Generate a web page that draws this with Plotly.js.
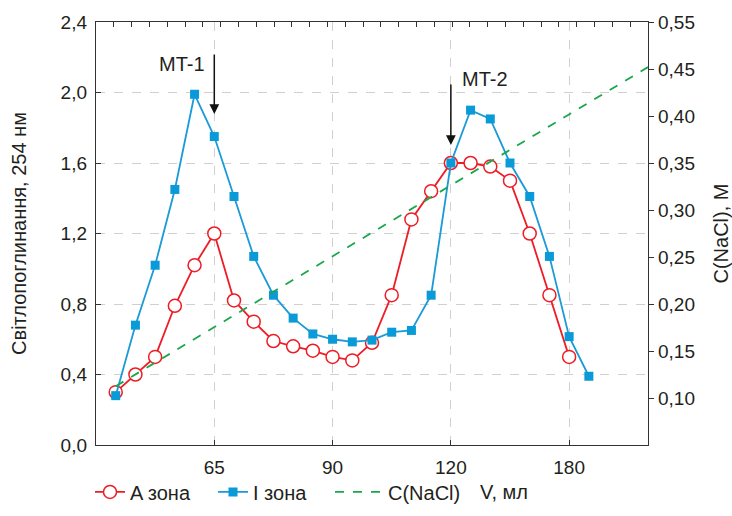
<!DOCTYPE html>
<html>
<head>
<meta charset="utf-8">
<script src="https://cdn.plot.ly/plotly-3.0.1.min.js"></script>
<style>html,body{margin:0;padding:0;background:#fff;}#chart{width:732px;height:516px;}</style>
</head>
<body>
<div id="chart"></div>
<script>
// Fraction numbers (evenly spaced samples)
const fractionsA = [1,2,3,4,5,6,7,8,9,10,11,12,13,14,15,16,17,18,19,20,21,22,23,24];
const zoneA = [0.30,0.40,0.50,0.79,1.02,1.20,0.82,0.70,0.59,0.56,0.535,0.50,0.48,0.58,0.85,1.28,1.44,1.60,1.60,1.58,1.50,1.20,0.85,0.50];
const fractionsI = [1,2,3,4,5,6,7,8,9,10,11,12,13,14,15,16,17,18,19,20,21,22,23,24,25];
const zoneI = [0.28,0.68,1.02,1.45,1.99,1.75,1.41,1.07,0.85,0.72,0.63,0.60,0.585,0.595,0.64,0.65,0.85,1.60,1.90,1.85,1.60,1.41,1.07,0.615,0.39];
const naclX = [1, 28];
const naclC = [0.1125, 0.452];
const xTickLabels = ['65','90','120','180'];
const xTickFractions = [6,12,18,24];
const leftTicks = [0,0.4,0.8,1.2,1.6,2.0,2.4];
const leftTickLabels = ['0,0','0,4','0,8','1,2','1,6','2,0','2,4'];
const rightTicks = [0.10,0.15,0.20,0.25,0.30,0.35,0.40,0.45,0.50];
const rightTickLabels = ['0,10','0,15','0,20','0,25','0,30','0,35','0,40','0,45','0,55'];

const FONT = 'Liberation Sans, Arial, sans-serif';
const TXT = '#231f20';
const FS = 19;
const LFS = 20;

const traces = [
  {x: fractionsA, y: zoneA, name: 'A зона', type: 'scatter', mode: 'lines+markers',
   line: {color: '#ee1c25', width: 1.8},
   marker: {symbol: 'circle', size: 13, color: '#ffffff', line: {color: '#ee1c25', width: 1.5}},
   xaxis: 'x', yaxis: 'y', legend: 'legend'},
  {x: fractionsI, y: zoneI, name: 'I зона', type: 'scatter', mode: 'lines+markers',
   line: {color: '#1a9ad6', width: 1.8},
   marker: {symbol: 'square', size: 9, color: '#0a9ad8'},
   xaxis: 'x', yaxis: 'y', legend: 'legend2'},
  {x: naclX, y: naclC, name: 'C(NaCl)', type: 'scatter', mode: 'lines',
   line: {color: '#1aa64a', width: 1.8, dash: 'dash'},
   xaxis: 'x', yaxis: 'y2', legend: 'legend3'},
  {x: [0], y: [0], xaxis: 'x2', yaxis: 'y', mode: 'markers', marker: {opacity: 0}, showlegend: false, hoverinfo: 'skip'}
];

function leg(px, w) {
  return {orientation: 'h', x: (px - 96) / 552, xanchor: 'left', y: -0.111, yanchor: 'middle',
          font: {family: FONT, size: LFS, color: TXT}, itemwidth: w || 30,
          bgcolor: 'rgba(0,0,0,0)', borderwidth: 0};
}

const layout = {
  width: 732, height: 516,
  margin: {l: 96, r: 84, t: 22, b: 71, autoexpand: false},
  paper_bgcolor: '#fff', plot_bgcolor: '#fff',
  font: {family: FONT, size: FS, color: TXT},
  showlegend: true,
  legend: leg(90),
  legend2: leg(213),
  legend3: leg(330, 48),
  xaxis: {range: [0, 28], tickvals: xTickFractions, ticktext: xTickLabels,
          ticks: 'inside', ticklen: 5, tickcolor: '#333', showline: true, linecolor: '#333', linewidth: 1.2,
          showgrid: true, gridcolor: '#d0d0d0', griddash: 'dash', gridwidth: 1, zeroline: false,
          ticklabelstandoff: 5, automargin: false,
          tickfont: {family: FONT, size: FS, color: TXT}},
  xaxis2: {range: [0, 31], dtick: 1, tick0: 0, overlaying: 'x', side: 'top', ticks: 'inside', ticklen: 5,
           tickcolor: '#333', showticklabels: false, showline: true, linecolor: '#333', linewidth: 1.2,
           showgrid: false, zeroline: false, automargin: false},
  yaxis: {range: [0, 2.4], tickvals: leftTicks, ticktext: leftTickLabels,
          ticks: 'inside', ticklen: 5, tickcolor: '#333', showline: true, linecolor: '#333', linewidth: 1.2,
          showgrid: true, gridcolor: '#d0d0d0', griddash: 'dash', gridwidth: 1, zeroline: false,
          ticklabelstandoff: 4, automargin: false,
          tickfont: {family: FONT, size: FS, color: TXT},
          title: {text: 'Світлопоглинання, 254 нм', font: {family: FONT, size: LFS, color: TXT}, standoff: 28}},
  yaxis2: {range: [0.05, 0.50], overlaying: 'y', side: 'right', tickvals: rightTicks, ticktext: rightTickLabels,
           ticks: 'outside', ticklen: 5, tickcolor: '#333', showline: true, linecolor: '#333', linewidth: 1.2,
           showgrid: false, zeroline: false, automargin: false,
           tickfont: {family: FONT, size: FS, color: TXT},
           title: {text: 'C(NaCl), M', font: {family: FONT, size: LFS, color: TXT}, standoff: 24}},
  annotations: [
    {x: 6, y: 1.878, xref: 'x', yref: 'y', ax: 0, ay: -61, axref: 'pixel', ayref: 'pixel',
     showarrow: true, arrowhead: 2, arrowsize: 1.3, arrowwidth: 1.5, arrowcolor: '#111', text: ''},
    {x: 4.36, y: 2.162, xref: 'x', yref: 'y', text: 'MT-1', showarrow: false,
     font: {family: FONT, size: LFS, color: TXT}},
    {x: 18, y: 1.702, xref: 'x', yref: 'y', ax: 0, ay: -62, axref: 'pixel', ayref: 'pixel',
     showarrow: true, arrowhead: 2, arrowsize: 1.3, arrowwidth: 1.5, arrowcolor: '#111', text: ''},
    {x: 19.72, y: 2.077, xref: 'x', yref: 'y', text: 'MT-2', showarrow: false,
     font: {family: FONT, size: LFS, color: TXT}},
    {x: (504 - 96) / 552, y: -0.111, xref: 'paper', yref: 'paper', text: 'V, мл', showarrow: false,
     xanchor: 'center', yanchor: 'middle', font: {family: FONT, size: LFS, color: TXT}}
  ]
};

Plotly.newPlot('chart', traces, layout, {displayModeBar: false, staticPlot: true});
</script>
</body>
</html>
